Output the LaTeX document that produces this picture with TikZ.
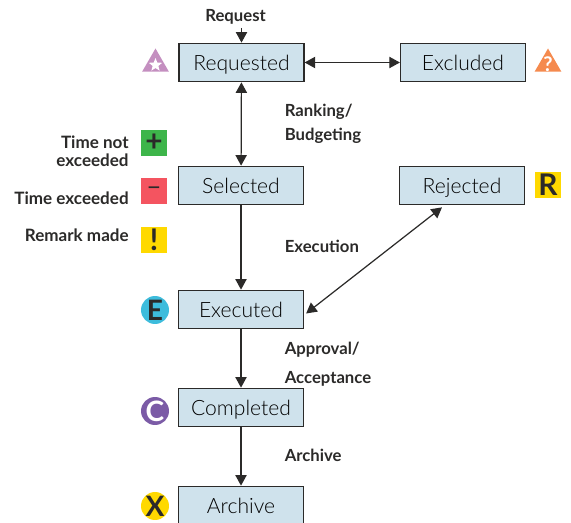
\documentclass[tikz,border=0pt]{standalone}
\usepackage{fontspec}
\setmainfont{Lato}
\newfontfamily\lightfont{Lato Light}
\usetikzlibrary{arrows.meta,shapes.geometric}
\definecolor{inkgray}{HTML}{2B2A29}
\definecolor{boxblue}{HTML}{CFE2EC}
\definecolor{mauvebadge}{HTML}{C48FC0}
\definecolor{orangebadge}{HTML}{F58A4E}
\definecolor{greenbadge}{HTML}{3DB54A}
\definecolor{redbadge}{HTML}{F45460}
\definecolor{yellowbadge}{HTML}{FFD900}
\definecolor{cyanbadge}{HTML}{3DBCDC}
\definecolor{violetbadge}{HTML}{7B5BA6}
\tikzset{
  statebox/.style = {draw=inkgray, line width=0.7pt, fill=boxblue, minimum width=2.5cm, minimum height=0.77cm, inner sep=0pt, text height=10pt, text depth=1pt, text=black, font=\fontsize{12}{13}\lightfont},
  steplabel/.style = {anchor=west, inner sep=0pt, text=inkgray, font=\fontsize{9.5}{11}\selectfont\bfseries},
  sidelabel/.style = {anchor=east, align=right, inner sep=0pt, text=inkgray, font=\fontsize{9.7}{10.5}\selectfont\bfseries},
  squarebadge/.style = {minimum size=0.52cm, inner sep=0pt, text=inkgray, font=\fontsize{17}{17}\selectfont\bfseries},
  roundbadge/.style = {circle, minimum size=0.56cm, inner sep=0pt, text=inkgray, font=\fontsize{16}{16}\selectfont\bfseries},
  trianglebadge/.style = {regular polygon, regular polygon sides=3, minimum size=0.62cm, inner sep=0pt},
  link/.style = {draw=inkgray, line width=0.7pt, -{Triangle[length=6pt,width=6.4pt]}},
  twolink/.style = {link, {Triangle[length=6pt,width=6.4pt]}-{Triangle[length=6pt,width=6.4pt]}}
}
\begin{document}
\begin{tikzpicture}[x=0.02cm, y=-0.02cm]
  \useasboundingbox (0,0) rectangle (571,523);
  % states
  \node[statebox] (requested) at (241.5,62.5) {Requested};
  \node[statebox] (excluded) at (463,62.5) {Excluded};
  \node[statebox] (selected) at (241,185.5) {Selected};
  \node[statebox] (rejected) at (462,185.5) {Rejected};
  \node[statebox] (executed) at (241,309.5) {Executed};
  \node[statebox] (completed) at (241,407.5) {Completed};
  \node[statebox] (archive) at (241,505.5) {Archive};
  % labels
  \node[steplabel] (request) at (205,17) {Request};
  \node[steplabel] (ranking) at (284.5,112) {Ranking/};
  \node[steplabel] (budgeting) at (284.5,136) {Budgeting};
  \node[steplabel] (execution) at (284.5,246) {Execution};
  \node[steplabel] (approval) at (284.5,350) {Approval/};
  \node[steplabel] (acceptance) at (284.5,379) {Acceptance};
  \node[steplabel] (archiving) at (284.5,455) {Archive};
  \node[sidelabel] (timenot) at (129,151) {Time not\\exceeded};
  \node[sidelabel] (timeover) at (129,198) {Time exceeded};
  \node[sidelabel] (remark) at (129,235) {Remark made};
  % badges
  \node[trianglebadge, fill=mauvebadge] (requestedtri) at (155.5,64) {};
  \node[star, star points=5, star point ratio=2.3, fill=white, minimum size=0.28cm, inner sep=0pt] (requestedstar) at (155.5,65) {};
  \node[trianglebadge, fill=orangebadge] (excludedtri) at (548,64) {};
  \node[text=white, inner sep=0pt, font=\fontsize{11.5}{12}\selectfont\bfseries] (excludedmark) at (548,64) {?};
  \node[squarebadge, fill=greenbadge] (plus) at (154,143) {+};
  \node[squarebadge, fill=redbadge, font=\fontsize{15}{15}\selectfont] (minus) at (154,191) {--};
  \node[squarebadge, fill=yellowbadge] (note) at (154,240) {!};
  \node[squarebadge, fill=yellowbadge] (rbadge) at (548,185) {R};
  \node[roundbadge, fill=cyanbadge] (ebadge) at (155,310) {E};
  \node[roundbadge, fill=violetbadge, text=white] (cbadge) at (155,411) {C};
  \node[roundbadge, fill=yellowbadge] (xbadge) at (155,506) {X};
  % connectors
  \draw[link] (request.south -| requested.north) ++(0,3) -- (requested.north);
  \draw[twolink] (requested) -- (selected);
  \draw[twolink] (requested) -- (excluded);
  \draw[link] (selected) -- (executed);
  \draw[twolink] ([xshift=0.04cm,yshift=-0.08cm]executed.east) -- ([xshift=-0.4cm,yshift=-0.04cm]rejected.south);
  \draw[link] (executed) -- (completed);
  \draw[link] (completed) -- (archive);
\end{tikzpicture}
\end{document}
